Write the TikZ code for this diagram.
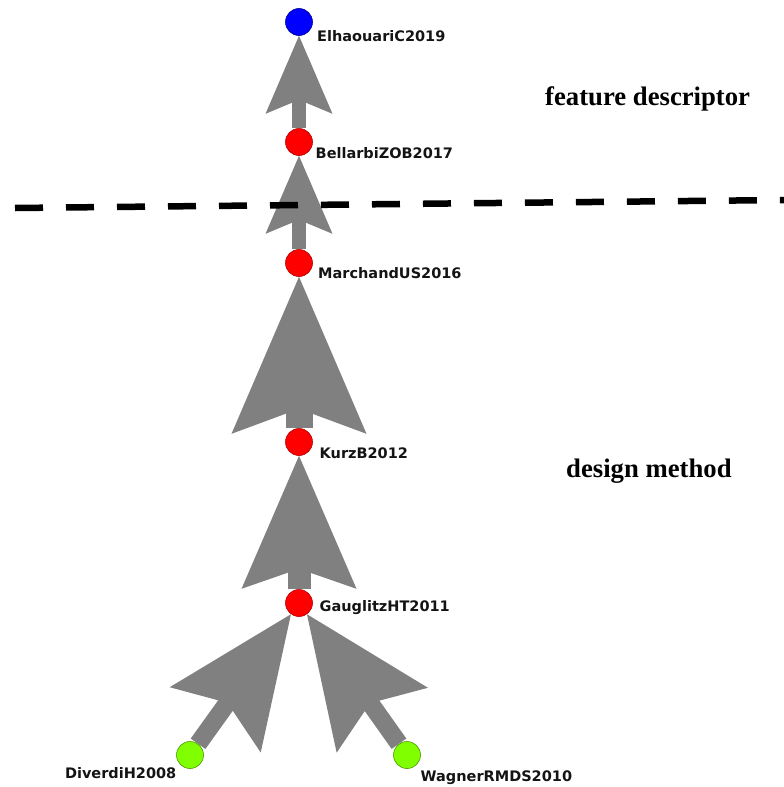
\documentclass[tikz,border=0pt]{standalone}
\usepackage{fontspec}
\setmainfont{Liberation Serif}
\newfontfamily\lblfont{DejaVu Sans}
\usetikzlibrary{arrows.meta,backgrounds}
\definecolor{nodegreen}{RGB}{127,255,0}
\definecolor{nodeblue}{RGB}{0,0,255}
\definecolor{nodered}{RGB}{255,0,0}

\begin{document}
\begin{tikzpicture}[x=1pt, y=-1pt,
    paper/.style={circle, minimum size=27pt, inner sep=0pt, line width=0.6pt},
    lbl/.style={inner sep=0pt, font=\lblfont\bfseries\fontsize{14.5}{16}\selectfont, text=black!92},
    area/.style={inner sep=0pt, anchor=base west, font=\bfseries\fontsize{26.7}{30}\selectfont}]
            \useasboundingbox (0,0) rectangle (784,787);

            % papers
            \node[paper, fill=nodeblue, draw=nodeblue!60!black] (elh) at (299,22) {};
            \node[paper, fill=nodered, draw=nodered!70!black] (bel) at (299,142) {};
            \node[paper, fill=nodered, draw=nodered!70!black] (mar) at (299,263) {};
            \node[paper, fill=nodered, draw=nodered!70!black] (kur) at (299,442) {};
            \node[paper, fill=nodered, draw=nodered!70!black] (gau) at (299,603) {};
            \node[paper, fill=nodegreen, draw=nodegreen!60!black] (div) at (190,755) {};
            \node[paper, fill=nodegreen, draw=nodegreen!60!black] (wag) at (407,755) {};

            \node[lbl, anchor=base west] (elhlbl) at (317,41) {ElhaouariC2019};
            \node[lbl, anchor=base west] (bellbl) at (315.5,158.5) {BellarbiZOB2017};
            \node[lbl, anchor=base west] (marlbl) at (318,278.5) {MarchandUS2016};
            \node[lbl, anchor=base west] (kurlbl) at (319.5,458.5) {KurzB2012};
            \node[lbl, anchor=base west] (gaulbl) at (319.5,611.5) {GauglitzHT2011};
            \node[lbl, anchor=base east] (divlbl) at (176.5,778.5) {DiverdiH2008};
            \node[lbl, anchor=base west] (waglbl) at (420.5,781.5) {WagnerRMDS2010};

            \begin{pgfonlayer}{background}
            \foreach \src/\dst/\w/\len/\wid/\ins in {
                bel/elh/14pt/78pt/67pt/14pt,
                mar/bel/14pt/78pt/67pt/14pt,
                kur/mar/27pt/157pt/135pt/25pt,
                gau/kur/23pt/133pt/115pt/20pt,
                div/gau/18pt/130pt/112pt/21pt,
                wag/gau/18pt/130pt/112pt/21pt
            } {
                \draw[gray, line width=\w, -{Stealth[length=\len, width=\wid, inset=\ins, line width=0pt]}] (\src) -- (\dst);
            }
            \end{pgfonlayer}

            % split between the two kinds of work
            \coordinate (cutL) at (15,208);
            \coordinate (cutR) at (784,200);
            \draw[black, line width=6.5pt, dash pattern=on 28pt off 23pt] (cutL) -- (cutR);

            \node[area] (featlbl) at (545,105) {feature descriptor};
            \node[area] (designlbl) at (566,477) {design method};
        \end{tikzpicture}
\end{document}
